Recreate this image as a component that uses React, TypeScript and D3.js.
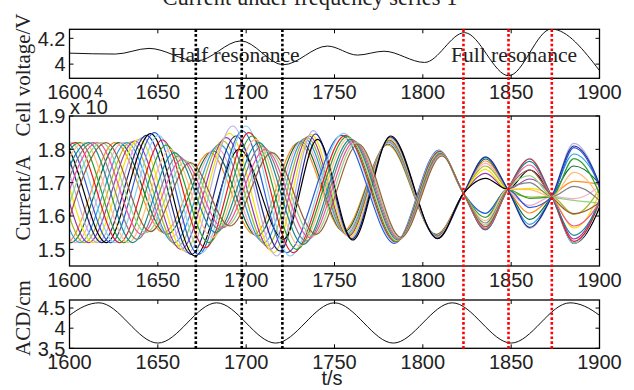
import * as d3 from "d3";

type Pt = [number, number];

// axis ticks
const xTicks = [1600, 1650, 1700, 1750, 1800, 1850, 1900];
const voltageTicks = [4, 4.2];
const currentTicks = [1.5, 1.6, 1.7, 1.8, 1.9];
const acdTicks = [3.5, 4, 4.5];

// cell voltage (V)
const voltage: Pt[] = [
  [1600, 4.085], [1626, 4.078], [1645, 4.122], [1672, 4.025], [1697, 4.18],
  [1721, 3.995], [1746, 4.14], [1763, 4.07], [1778, 4.1], [1801, 4.013],
  [1823.6, 4.244], [1848.6, 3.91], [1872.7, 4.272], [1900, 3.95],
];

// anode-cathode distance (cm), extrema of the bottom panel
const acd: Pt[] = [
  [1583.3, 3.63], [1616.7, 4.63], [1650, 3.63], [1683.3, 4.63], [1716.7, 3.63],
  [1750, 4.63], [1783.3, 3.63], [1816.7, 4.63], [1850, 3.63], [1883.3, 4.63],
  [1916.7, 3.63],
];

// resonance markers (s)
const halfResonance = [1671.5, 1697.5, 1720.5];
const fullResonance = [1823, 1848.5, 1873];

// anode currents (x 10^4 A): peaks, troughs and the common crossing points
const anode01: Pt[] = [[1548.3,1.52],[1573.3,1.82],[1598.3,1.52],[1625.7,1.82],[1653.2,1.55],[1679.4,1.79],[1704.4,1.545],[1729.6,1.82],[1754.9,1.555],[1780.0,1.813],[1807.5,1.545],[1823,1.668],[1835.5,1.765],[1848,1.68],[1860.5,1.609],[1873,1.658],[1885.5,1.704],[1910.5,1.682]];
const anode02: Pt[] = [[1550.8,1.52],[1575.8,1.82],[1600.8,1.52],[1627.9,1.82],[1655.2,1.545],[1681.3,1.795],[1706.3,1.54],[1730.8,1.824],[1755.5,1.552],[1780.2,1.816],[1807.6,1.544],[1823,1.668],[1835.5,1.771],[1848,1.68],[1860.5,1.59],[1873,1.658],[1885.5,1.75],[1910.5,1.616]];
const anode03: Pt[] = [[1553.3,1.52],[1578.3,1.82],[1603.3,1.52],[1630.2,1.82],[1657.2,1.535],[1683.1,1.805],[1708.1,1.53],[1732.0,1.828],[1756.1,1.549],[1780.4,1.819],[1807.7,1.542],[1823,1.668],[1835.5,1.758],[1848,1.68],[1860.5,1.632],[1873,1.658],[1885.5,1.652],[1910.5,1.746]];
const anode04: Pt[] = [[1555.8,1.52],[1580.8,1.82],[1605.8,1.52],[1632.4,1.82],[1659.1,1.52],[1685.0,1.815],[1710.0,1.52],[1733.2,1.832],[1756.7,1.546],[1780.6,1.822],[1807.8,1.541],[1823,1.668],[1835.5,1.775],[1848,1.68],[1860.5,1.575],[1873,1.658],[1885.5,1.786],[1910.5,1.561]];
const anode05: Pt[] = [[1558.3,1.52],[1583.3,1.82],[1608.3,1.52],[1634.7,1.822],[1661.1,1.51],[1686.8,1.825],[1711.8,1.51],[1734.4,1.836],[1757.3,1.543],[1780.8,1.825],[1807.9,1.539],[1823,1.668],[1835.5,1.75],[1848,1.68],[1860.5,1.657],[1873,1.658],[1885.5,1.605],[1910.5,1.796]];
const anode06: Pt[] = [[1560.8,1.52],[1585.8,1.82],[1610.8,1.52],[1636.9,1.825],[1663.1,1.5],[1688.7,1.835],[1713.7,1.5],[1735.6,1.84],[1757.9,1.54],[1781.0,1.828],[1808.0,1.538],[1823,1.668],[1835.5,1.728],[1848,1.68],[1860.5,1.711],[1873,1.658],[1885.5,1.531],[1910.5,1.823]];
const anode07: Pt[] = [[1563.3,1.52],[1588.3,1.82],[1613.3,1.52],[1639.2,1.83],[1665.1,1.495],[1690.5,1.848],[1715.5,1.49],[1736.8,1.844],[1758.5,1.537],[1781.2,1.831],[1808.1,1.536],[1823,1.668],[1835.5,1.74],[1848,1.68],[1860.5,1.683],[1873,1.658],[1885.5,1.564],[1910.5,1.824]];
const anode08: Pt[] = [[1565.8,1.52],[1590.8,1.82],[1615.8,1.52],[1641.4,1.835],[1667.0,1.49],[1692.4,1.87],[1717.4,1.48],[1738.0,1.856],[1759.1,1.534],[1781.4,1.834],[1808.2,1.535],[1823,1.668],[1835.5,1.778],[1848,1.68],[1860.5,1.563],[1873,1.658],[1885.5,1.818],[1910.5,1.508]];
const anode09: Pt[] = [[1568.3,1.52],[1593.3,1.82],[1618.3,1.52],[1643.6,1.842],[1669.0,1.485],[1694.2,1.84],[1719.2,1.495],[1739.2,1.846],[1759.8,1.531],[1781.6,1.837],[1808.3,1.533],[1823,1.668],[1835.5,1.777],[1848,1.68],[1860.5,1.566],[1873,1.658],[1885.5,1.81],[1910.5,1.522]];
const anode10: Pt[] = [[1570.8,1.52],[1595.8,1.82],[1620.8,1.52],[1645.9,1.847],[1671.0,1.48],[1696.1,1.8],[1721.1,1.53],[1740.4,1.83],[1760.4,1.528],[1781.8,1.84],[1808.4,1.532],[1823,1.668],[1835.5,1.713],[1848,1.68],[1860.5,1.738],[1873,1.658],[1885.5,1.518],[1910.5,1.783]];
const anode11: Pt[] = [[1573.3,1.52],[1598.3,1.82],[1623.3,1.52],[1648.1,1.85],[1673.0,1.485],[1697.9,1.855],[1722.9,1.49],[1754.0,1.842],[1784.0,1.518],[1809.0,1.798],[1823,1.668],[1835.5,1.608],[1848,1.68],[1860.5,1.625],[1873,1.658],[1885.5,1.805],[1910.5,1.513]];
const anode12: Pt[] = [[1575.8,1.52],[1600.8,1.82],[1625.8,1.52],[1650.4,1.842],[1675.0,1.49],[1699.8,1.87],[1724.8,1.48],[1755.1,1.848],[1784.4,1.52],[1809.2,1.796],[1823,1.668],[1835.5,1.558],[1848,1.68],[1860.5,1.773],[1873,1.658],[1885.5,1.518],[1910.5,1.828]];
const anode13: Pt[] = [[1578.3,1.52],[1603.3,1.82],[1628.3,1.52],[1652.6,1.828],[1676.9,1.505],[1701.6,1.85],[1726.6,1.49],[1756.1,1.841],[1784.8,1.522],[1809.4,1.794],[1823,1.668],[1835.5,1.559],[1848,1.68],[1860.5,1.771],[1873,1.658],[1885.5,1.524],[1910.5,1.818]];
const anode14: Pt[] = [[1580.8,1.52],[1605.8,1.82],[1630.8,1.52],[1654.8,1.813],[1678.9,1.52],[1703.5,1.84],[1728.5,1.5],[1757.2,1.838],[1785.2,1.524],[1809.6,1.792],[1823,1.668],[1835.5,1.596],[1848,1.68],[1860.5,1.653],[1873,1.658],[1885.5,1.772],[1910.5,1.512]];
const anode15: Pt[] = [[1583.3,1.52],[1608.3,1.82],[1633.3,1.52],[1657.1,1.8],[1680.9,1.535],[1705.3,1.83],[1730.3,1.51],[1758.2,1.834],[1785.6,1.526],[1809.8,1.79],[1823,1.668],[1835.5,1.586],[1848,1.68],[1860.5,1.679],[1873,1.658],[1885.5,1.731],[1910.5,1.54]];
const anode16: Pt[] = [[1585.8,1.52],[1610.8,1.82],[1635.8,1.52],[1659.3,1.79],[1682.9,1.55],[1707.2,1.82],[1732.2,1.515],[1759.3,1.83],[1786.0,1.528],[1810.0,1.788],[1823,1.668],[1835.5,1.56],[1848,1.68],[1860.5,1.764],[1873,1.658],[1885.5,1.542],[1910.5,1.789]];
const anode17: Pt[] = [[1588.3,1.52],[1613.3,1.82],[1638.3,1.53],[1661.6,1.78],[1684.9,1.56],[1709.0,1.81],[1734.0,1.525],[1760.3,1.827],[1786.4,1.53],[1810.2,1.786],[1823,1.668],[1835.5,1.579],[1848,1.68],[1860.5,1.7],[1873,1.658],[1885.5,1.689],[1910.5,1.583]];
const anode18: Pt[] = [[1590.8,1.52],[1615.8,1.82],[1640.8,1.545],[1663.8,1.77],[1686.8,1.565],[1710.9,1.8],[1735.9,1.535],[1761.4,1.823],[1786.8,1.532],[1810.4,1.784],[1823,1.668],[1835.5,1.563],[1848,1.68],[1860.5,1.753],[1873,1.658],[1885.5,1.57],[1910.5,1.746]];
const anode19: Pt[] = [[1593.3,1.52],[1618.3,1.82],[1643.3,1.55],[1666.0,1.765],[1688.8,1.57],[1712.7,1.795],[1737.7,1.54],[1762.4,1.82],[1787.2,1.534],[1810.6,1.782],[1823,1.668],[1835.5,1.573],[1848,1.68],[1860.5,1.721],[1873,1.658],[1885.5,1.647],[1910.5,1.635]];
const anode20: Pt[] = [[1595.8,1.52],[1620.8,1.82],[1645.8,1.553],[1668.3,1.76],[1690.8,1.57],[1714.6,1.79],[1739.6,1.545],[1763.5,1.816],[1787.6,1.536],[1810.8,1.78],[1823,1.668],[1835.5,1.568],[1848,1.68],[1860.5,1.738],[1873,1.658],[1885.5,1.607],[1910.5,1.69]];

const anodes = [
  anode01, anode02, anode03, anode04, anode05, anode06, anode07, anode08, anode09, anode10,
  anode11, anode12, anode13, anode14, anode15, anode16, anode17, anode18, anode19, anode20,
];
const anodeColors = [
  "#ff8c1a", "#0b6e2e", "#f5a9cc", "#2ca0e0", "#a6b820", "#9b3aa8", "#f2e500", "#b8aee8", "#1c2a85", "#000000",
  "#2a5bd7", "#86d3f0", "#e41a1c", "#2ca02c", "#ffbe7a", "#138d90", "#808080", "#f0559e", "#8fd47f", "#9c5b3a",
];

const SERIF = "'Liberation Serif', 'Times New Roman', serif";
const SANS = "'Liberation Sans', Arial, Helvetica, sans-serif";

const X0 = 69.5;
const X1 = 599.5;
const x = d3.scaleLinear().domain([1600, 1900]).range([X0, X1]);
const yV = d3.scaleLinear().domain([3.89, 4.27]).range([78.3, 29.3]);
const yI = d3.scaleLinear().domain([1.45, 1.9]).range([266, 116]);
const yA = d3.scaleLinear().domain([3.5, 4.7]).range([348.3, 300]);

function Frame({ y, ticks, id }: { y: d3.ScaleLinear<number, number>; ticks: number[]; id: string }) {
  const [bottom, top] = y.range();
  return (
    <g>
      <defs>
        <clipPath id={id}>
          <rect x={X0} y={top} width={X1 - X0} height={bottom - top} />
        </clipPath>
      </defs>
      {xTicks.map((t) => (
        <g key={t}>
          <line x1={x(t)} x2={x(t)} y1={bottom} y2={bottom - 4} stroke="#000" strokeWidth={1} />
          <line x1={x(t)} x2={x(t)} y1={top} y2={top + 4} stroke="#000" strokeWidth={1} />
          <text x={x(t)} y={bottom + 21} textAnchor="middle" fontFamily={SANS} fontSize={20} fill="#222">
            {t}
          </text>
        </g>
      ))}
      {ticks.map((v) => (
        <g key={v}>
          <line x1={X0} x2={X0 + 4} y1={y(v)} y2={y(v)} stroke="#000" strokeWidth={1} />
          <line x1={X1} x2={X1 - 4} y1={y(v)} y2={y(v)} stroke="#000" strokeWidth={1} />
          <text x={X0 - 4} y={y(v)} dy="0.36em" textAnchor="end" fontFamily={SANS} fontSize={20} fill="#222">
            {String(v)}
          </text>
        </g>
      ))}
      <rect x={X0} y={top} width={X1 - X0} height={bottom - top} fill="none" stroke="#000" strokeWidth={1.3} />
    </g>
  );
}

export default function App() {
  const lineV = d3.line<Pt>().x((d) => x(d[0])).y((d) => yV(d[1])).curve(d3.curveMonotoneX);
  const lineI = d3.line<Pt>().x((d) => x(d[0])).y((d) => yI(d[1])).curve(d3.curveMonotoneX);
  const lineA = d3.line<Pt>().x((d) => x(d[0])).y((d) => yA(d[1])).curve(d3.curveMonotoneX);

  return (
    <svg width={634} height={390} style={{ position: "absolute", left: 0, top: 0, display: "block" }}>
      <rect width={634} height={390} fill="#fff" />

      <text x={310} y={4.5} textAnchor="middle" fontFamily={SERIF} fontSize={22.5} fill="#222">
        Current under frequency series 1
      </text>

      {/* top: cell voltage */}
      <Frame y={yV} ticks={voltageTicks} id="clip-v" />
      <path d={lineV(voltage) || ""} fill="none" stroke="#111" strokeWidth={1} clipPath="url(#clip-v)" />
      <text x={170} y={61.7} fontFamily={SERIF} fontSize={21.5} fill="#222">Half resonance</text>
      <text x={451} y={61.7} fontFamily={SERIF} fontSize={21.5} fill="#222">Full resonance</text>

      {/* middle: anode currents */}
      <g clipPath="url(#clip-i)">
        {anodes.map((s, i) => (
          <path key={i} d={lineI(s) || ""} fill="none" stroke={anodeColors[i]} strokeWidth={1.2} />
        ))}
      </g>
      <Frame y={yI} ticks={currentTicks} id="clip-i" />
      <text x={70} y={114} fontFamily={SANS} fontSize={20} fill="#222">x 10</text>
      <text x={94} y={97} fontFamily={SANS} fontSize={16} fill="#222">4</text>

      {/* bottom: ACD */}
      <Frame y={yA} ticks={acdTicks} id="clip-a" />
      <path d={lineA(acd) || ""} fill="none" stroke="#111" strokeWidth={1} clipPath="url(#clip-a)" />

      {/* resonance markers */}
      {halfResonance.map((t) => (
        <line key={`h${t}`} x1={x(t)} x2={x(t)} y1={29.3} y2={350} stroke="#000" strokeWidth={2.6} strokeDasharray="2.6 2.2" />
      ))}
      {fullResonance.map((t) => (
        <line key={`f${t}`} x1={x(t)} x2={x(t)} y1={29.3} y2={350} stroke="#ff0000" strokeWidth={2.6} strokeDasharray="2.6 2.2" />
      ))}

      {/* axis titles */}
      <text transform="translate(30,75) rotate(-90)" textAnchor="middle" fontFamily={SERIF} fontSize={21} fill="#222">
        Cell voltage/V
      </text>
      <text transform="translate(30,198) rotate(-90)" textAnchor="middle" fontFamily={SERIF} fontSize={21} fill="#222">
        Current/A
      </text>
      <text transform="translate(30,318) rotate(-90)" textAnchor="middle" fontFamily={SERIF} fontSize={21} fill="#222">
        ACD/cm
      </text>
      <text x={332} y={385} textAnchor="middle" fontFamily={SANS} fontSize={20} fill="#222">t/s</text>
    </svg>
  );
}
